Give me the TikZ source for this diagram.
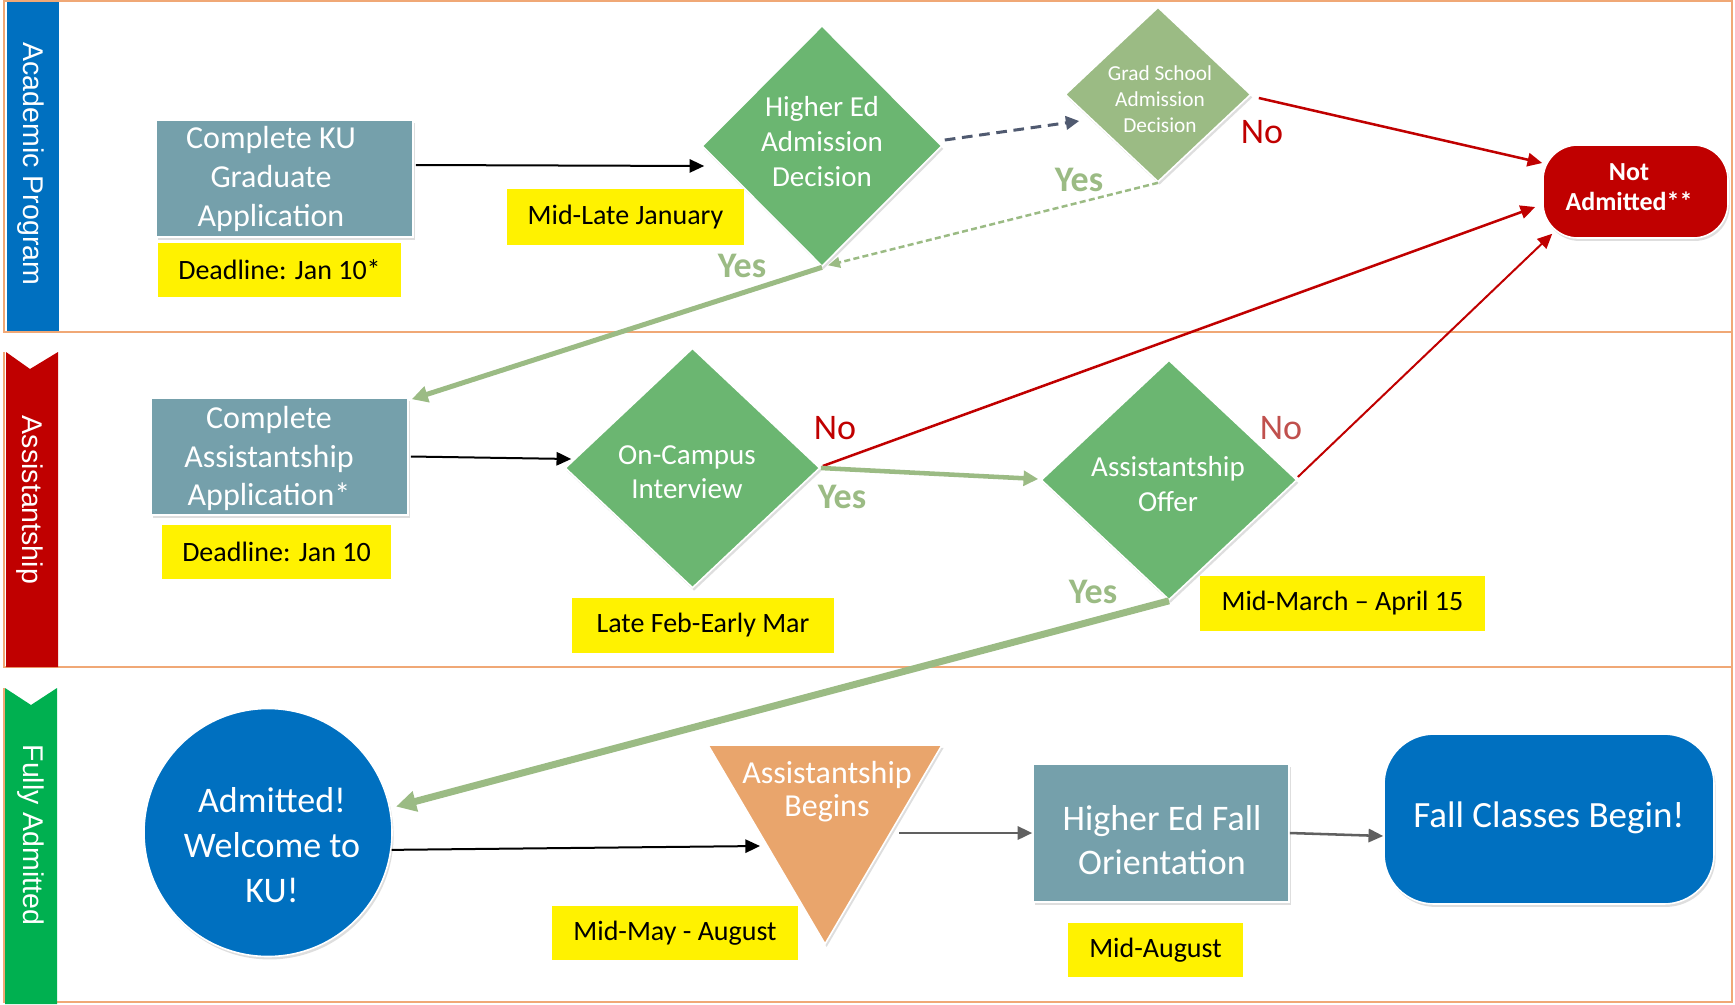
\documentclass[tikz,border=0pt]{standalone}
\usepackage{fontspec}
\setmainfont{Carlito}
\newfontfamily\lanefont{Liberation Sans}
\usetikzlibrary{shapes.geometric,arrows.meta,calc,shadows}
\newcommand\fsz[2]{\fontsize{#1}{#2}\selectfont}
\definecolor{laneor}{RGB}{240,168,118}
\definecolor{kublue}{RGB}{0,112,192}
\definecolor{kured}{RGB}{192,0,0}
\definecolor{kugreen}{RGB}{0,176,80}
\definecolor{steel}{RGB}{117,160,171}
\definecolor{dgreen}{RGB}{107,182,113}
\definecolor{sage}{RGB}{155,187,132}
\definecolor{peach}{RGB}{233,165,108}
\definecolor{slate}{RGB}{80,90,112}
\definecolor{noredl}{RGB}{192,80,77}
\definecolor{arrgray}{RGB}{96,96,96}
\begin{document}
\begin{tikzpicture}[x=0.75pt,y=-0.75pt,
  lane/.style={draw=laneor,line width=1.8pt},
  shad/.style={drop shadow={shadow xshift=1.2pt,shadow yshift=-2.2pt,opacity=0.13,fill=black}},
  procbox/.style={rectangle,fill=steel,draw=white,line width=1.2pt,shad,minimum width=192.75pt,minimum height=87.75pt,inner sep=0pt},
  dshape/.style={diamond,draw=white,line width=1.2pt,inner sep=0pt,shad},
  wtxt/.style={text=white,align=center,inner sep=0pt},
  ylab/.style={rectangle,fill=yellow,inner sep=0pt,font=\fsz{21pt}{25pt}},
  nolab/.style={text=kured,font=\fsz{27pt}{32pt},inner sep=0pt},
  yeslab/.style={text=sage,font=\bfseries\fsz{27pt}{32pt},inner sep=0pt},
  lanetxt/.style={rotate=-90,text=white,font=\lanefont\fsz{21.4pt}{25pt},inner sep=0pt},
  blk/.style={draw=black,line width=1.5pt,-{Triangle[length=11pt,width=10pt]}},
  redc/.style={draw=kured,line width=1.9pt,-{Triangle[length=11pt,width=10pt]}},
  redthin/.style={draw=kured,line width=1.5pt,-{Triangle[length=11pt,width=10pt]}},
  slatec/.style={draw=slate,line width=2.25pt,dash pattern=on 8pt off 5pt,-{Triangle[length=10pt,width=10pt]}},
  sagedash/.style={draw=sage,line width=1.9pt,dash pattern=on 4.5pt off 2.5pt,-{Triangle[length=9pt,width=8pt]}},
  sagethick/.style={draw=sage,line width=3.75pt,-{Triangle[length=12pt,width=12pt]}},
  sagemid/.style={draw=sage,line width=3.4pt,-{Triangle[length=11pt,width=11pt]}},
  sagebig/.style={draw=sage,line width=5.25pt,-{Triangle[length=15pt,width=15pt]}},
  grayc/.style={draw=arrgray,line width=1.9pt,-{Triangle[length=11pt,width=10pt]}}
]
\useasboundingbox (0,0) rectangle (1735,1004);
% lanes
\draw[lane] (4,1) rectangle (1732,332);
\draw[lane] (4,352) -- (4,667) -- (1732,667) -- (1732,332);
\draw[lane] (4,688) -- (4,1002) -- (1732,1002) -- (1732,667);
\fill[kublue] (7,2) rectangle (59,331);
\fill[kured] (6,352) -- (30,369) -- (58,352) -- (58,667) -- (6,667) -- cycle;
\fill[kugreen] (5,688) -- (31,705) -- (57,688) -- (57,1004) -- (5,1004) -- cycle;
\node[lanetxt] (l1) at (31,164) {Academic Program};
\node[lanetxt] (l2) at (30,500) {Assistantship};
\node[lanetxt] (l3) at (31,835) {Fully Admitted};

% lane 1
\node[procbox] (app) at (284.5,178.5) {};
\node[wtxt,font=\fsz{24pt}{29.25pt}] (appt) at (271,179) {Complete KU\\Graduate\\Application};
\node[ylab,minimum width=182.25pt,minimum height=40.5pt] (dl1) at (279.5,270) {Deadline: Jan 10*};
\node[ylab,minimum width=177.75pt,minimum height=42pt] (mlj) at (625.5,217) {Mid-Late January};
\node[dshape,fill=dgreen,minimum width=180pt,minimum height=180.75pt] (hed) at (822,146) {};
\node[wtxt,font=\fsz{21.75pt}{26.25pt}] (hedt) at (822,142) {Higher Ed\\Admission\\Decision};
\node[dshape,fill=sage,minimum width=139.5pt,minimum height=131.25pt] (gs) at (1158,94.5) {};
\node[wtxt,font=\fsz{16pt}{19.5pt}] (gst) at (1160,99.5) {Grad School\\Admission\\Decision};
\node[rectangle,rounded corners=26pt,fill=kured,draw=white,line width=1.2pt,shad,minimum width=138.75pt,minimum height=69.75pt,inner sep=0pt] (na) at (1635.5,191.5) {};
\node[wtxt,font=\bfseries\fsz{19.5pt}{23pt}] (nat) at (1629,187) {Not\\Admitted**};

% lane 2
\node[procbox] (asst) at (279.5,456.5) {};
\node[wtxt,font=\fsz{24pt}{29pt}] (asstt) at (269,458.5) {Complete\\Assistantship\\Application*};
\node[ylab,minimum width=171.75pt,minimum height=40.5pt] (dl2) at (276.5,552) {Deadline: Jan 10};
\node[dshape,fill=dgreen,minimum width=191.25pt,minimum height=180pt] (oci) at (692.5,468) {};
\node[wtxt,font=\fsz{21.75pt}{25.5pt}] (ocit) at (687,472) {On-Campus\\Interview};
\node[ylab,minimum width=196.5pt,minimum height=41.25pt] (lfe) at (703,625.5) {Late Feb-Early Mar};
\node[dshape,fill=dgreen,minimum width=192pt,minimum height=180pt] (aso) at (1169,480) {};
\node[wtxt,font=\fsz{21.75pt}{26.25pt}] (asot) at (1168,484.5) {Assistantship\\Offer};
\node[ylab,minimum width=213.75pt,minimum height=41.25pt] (mma) at (1342.5,603.5) {Mid-March – April 15};

% lane 3
\node[circle,fill=kublue,draw=white,line width=1.2pt,shad,minimum size=186pt,inner sep=0pt] (adm) at (268,832.5) {};
\node[wtxt,font=\fsz{27pt}{33.75pt}] (admt) at (272,845) {Admitted!\\Welcome to\\KU!};
\path[fill=peach,draw=white,line width=1.2pt,shad] (708,745) -- (942,745) -- (825,944) -- cycle;
\coordinate (triL) at (760,846);
\coordinate (triR) at (899,833);
\node[wtxt,font=\fsz{24pt}{24.75pt}] (trit) at (827,791.5) {Assistantship\\Begins};
\node[ylab,minimum width=184.5pt,minimum height=40.5pt] (mmy) at (675,933) {Mid-May - August};
\node[procbox,minimum width=192pt,minimum height=103.5pt] (ori) at (1161,833) {};
\node[wtxt,font=\fsz{27pt}{33pt}] (orit) at (1162,840) {Higher Ed Fall\\Orientation};
\node[ylab,minimum width=131.25pt,minimum height=40.5pt] (mau) at (1155.5,950) {Mid-August};
\node[rectangle,rounded corners=37.5pt,fill=kublue,draw=white,line width=1.2pt,shad,minimum width=247.5pt,minimum height=127.5pt,inner sep=0pt] (fc) at (1549,819) {};
\node[wtxt,font=\fsz{27.75pt}{33pt}] (fct) at (1549,818) {Fall Classes Begin!};

% labels
\node[nolab] (no1) at (1262,132) {No};
\node[yeslab] (yes1) at (1079,180) {Yes};
\node[yeslab] (yes2) at (742,266) {Yes};
\node[nolab] (no2) at (835,428) {No};
\node[yeslab] (yes3) at (842,497) {Yes};
\node[nolab,text=noredl] (no3) at (1281,428) {No};
\node[yeslab] (yes4) at (1093,592) {Yes};

% connectors
\draw[blk] ($(app.east)+(2,-13.5)$) -- ($(hed.west)+(3,20)$);
\draw[slatec] ($(hed.east)+(2,-6)$) -- ($(gs.west)+(15,26.5)$);
\draw[redc] ($(gs.east)+(7,3.5)$) -- ($(na.west)+(0,-28.5)$);
\draw[sagedash] (gs.south) -- ($(hed.south)+(6,-2)$);
\draw[sagethick] (hed.south) -- ($(asst.north east)+(3,2)$);
\draw[blk] ($(asst.east)+(2,0)$) -- ($(oci.west)+(7,-9)$);
\draw[redc] ($(oci.east)+(2,-2)$) -- ($(na.west)+(-7,15.5)$);
\draw[sagemid] (oci.east) -- ($(aso.west)+(-2,-1)$);
\draw[redthin] ($(aso.east)+(0,-3)$) -- ($(na.south west)+(10,-5)$);
\draw[sagebig] (aso.south) -- ($(adm.12)+(6,0)$);
\draw[blk] (adm.-8) -- (triL);
\draw[grayc] (triR) -- (ori.west);
\draw[grayc] (ori.east) -- ($(fc.west)+(0,17)$);
\end{tikzpicture}
\end{document}
